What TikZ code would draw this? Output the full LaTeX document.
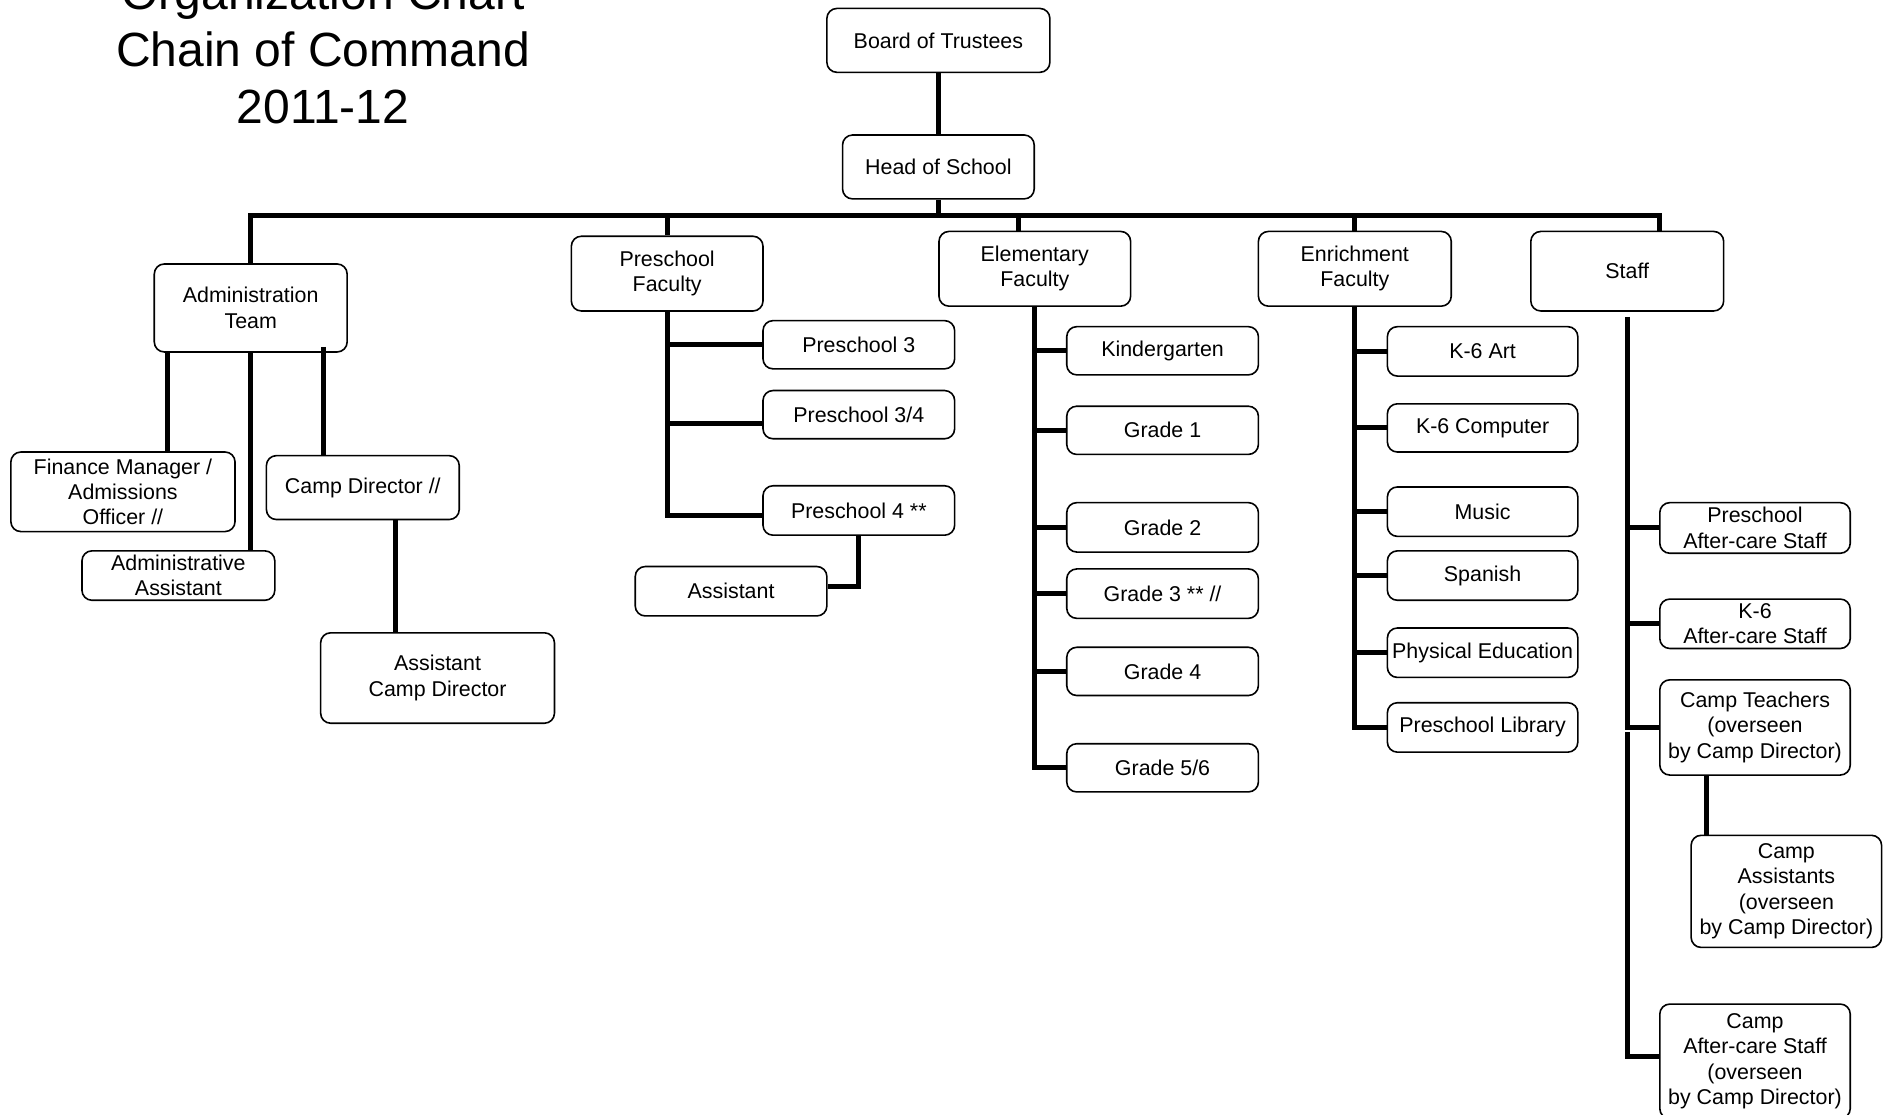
\documentclass[tikz,border=0pt]{standalone}
\usepackage{fontspec}
\setmainfont{Liberation Sans}
\usetikzlibrary{calc}
\newcommand\obox[6]{\node[bx, minimum width={(#4-#2)*1.2054pt}, minimum height={(#5-#3)*1.2054pt}] (#1) at ({(#2+#4)/2},{(#3+#5)/2}) {#6};}
\tikzset{
  bx/.style={draw, line width=1.6pt, rounded corners=10pt, fill=white, align=center, inner sep=0pt,
    font=\fontsize{21.4}{25.3}\selectfont},
  conn/.style={line width=5pt},
}
\begin{document}
\begin{tikzpicture}[x=1.2054pt, y=-1.2054pt]
\useasboundingbox (0,0) rectangle (1568,925);
% title
\node[align=center, font=\fontsize{48}{57}\selectfont] (title) at (268,41) {Organization Chart\\Chain of Command\\2011-12};
% boxes
\obox{board}{686}{7}{871}{60}{Board of Trustees}
\obox{head}{699}{112}{858}{165}{Head of School}
\obox{admin}{128}{219}{288}{292}{Administration\\Team}
\obox{pre}{474}{196}{633}{258}{Preschool\\Faculty}
\obox{elem}{779}{192}{938}{254}{Elementary\\Faculty}
\obox{enr}{1044}{192}{1204}{254}{Enrichment\\Faculty}
\obox{staff}{1270}{192}{1430}{258}{Staff}
\obox{fin}{9}{375}{195}{441}{Finance Manager /\\Admissions\\Officer //}
\obox{aa}{68}{457}{228}{498}{Administrative\\Assistant}
\obox{cd}{221}{378}{381}{431}{Camp Director //}
\obox{acd}{266}{525}{460}{600}{Assistant\\Camp Director}
\obox{p3}{633}{266}{792}{306}{Preschool 3}
\obox{p34}{633}{324}{792}{364}{Preschool 3/4}
\obox{p4}{633}{403}{792}{444}{Preschool 4 **}
\obox{asst}{527}{470}{686}{511}{Assistant}
\obox{kg}{885}{271}{1044}{311}{Kindergarten}
\obox{g1}{885}{337}{1044}{377}{Grade 1}
\obox{g2}{885}{417}{1044}{458}{Grade 2}
\obox{g3}{885}{472}{1044}{513}{Grade 3 ** //}
\obox{g4}{885}{537}{1044}{577}{Grade 4}
\obox{g56}{885}{617}{1044}{657}{Grade 5/6}
\obox{art}{1151}{271}{1309}{312}{K-6 Art}
\obox{comp}{1151}{335}{1309}{375}{K-6 Computer}
\obox{music}{1151}{404}{1309}{445}{Music}
\obox{span}{1151}{457}{1309}{498}{Spanish}
\obox{pe}{1151}{521}{1309}{562}{Physical Education}
\obox{plib}{1151}{583}{1309}{624}{Preschool Library}
\obox{pas}{1377}{417}{1535}{459}{Preschool\\After-care Staff}
\obox{k6}{1377}{497}{1535}{538}{K-6\\After-care Staff}
\obox{ct}{1377}{564}{1535}{643}{Camp Teachers\\(overseen\\by Camp Director)}
\obox{cas}{1403}{693}{1561}{786}{Camp\\Assistants\\(overseen\\by Camp Director)}
\obox{cac}{1377}{833}{1535}{928}{Camp\\After-care Staff\\(overseen\\by Camp Director)}
% helper coordinates
\coordinate (busL) at (208,179);
\coordinate (busR) at (1377,179);
\coordinate (xfin) at (139,0);
\coordinate (xcd) at (268,0);
\coordinate (xacd) at (328,0);
\coordinate (xel) at (845,0);
\coordinate (xcas) at (1416,0);
% connectors
\draw[conn] (board) -- (head);
\draw[conn] (head.south) -- (head.south |- busL);
\draw[conn] (admin.north) -- (busL) -- (busR) -- (busR |- staff.north);
\draw[conn] (pre.north) -- (pre.north |- busL);
\draw[conn] (elem.north -| xel) -- (busL -| xel);
\draw[conn] (enr.north) -- (enr.north |- busL);
% admin
\draw[conn] (admin.south -| xfin) -- (fin.north -| xfin);
\draw[conn] (admin.south) -- (admin.south |- aa.north);
\draw[conn] ([yshift=6]admin.south -| xcd) -- (cd.north -| xcd);
\draw[conn] (cd.south -| xacd) -- (acd.north -| xacd);
% preschool
\draw[conn] (pre.south) -- ($(pre.south |- p4.west)+(0,4)$) -- ($(p4.west)+(0,4)$);
\draw[conn] (pre.south |- p3.west) -- (p3.west);
\draw[conn] ($(pre.south |- p34.west)+(0,7)$) -- ($(p34.west)+(0,7)$);
\draw[conn] (p4.south) -- ($(p4.south |- asst.east)+(0,-4)$) -- ($(asst.east)+(0,-4)$);
% elementary
\draw[conn] (elem.south) -- (elem.south |- g56.west) -- (g56.west);
\foreach \n in {kg,g1,g2,g3,g4} \draw[conn] (elem.south |- \n.west) -- (\n.west);
% enrichment
\draw[conn] (enr.south) -- (enr.south |- plib.west) -- (plib.west);
\foreach \n in {art,comp,music,span,pe} \draw[conn] (enr.south |- \n.west) -- (\n.west);
% staff
\draw[conn] ([yshift=-5]staff.south) -- (staff.south |- ct.west) -- (ct.west);
\draw[conn] (staff.south |- pas.west) -- (pas.west);
\draw[conn] (staff.south |- k6.west) -- (k6.west);
\draw[conn] ($(staff.south |- ct.west)+(0,4)$) -- ($(staff.south |- cac.west)+(0,-4)$) -- ($(cac.west)+(0,-4)$);
\draw[conn] (ct.south -| xcas) -- (cas.north -| xcas);
\end{tikzpicture}
\end{document}
